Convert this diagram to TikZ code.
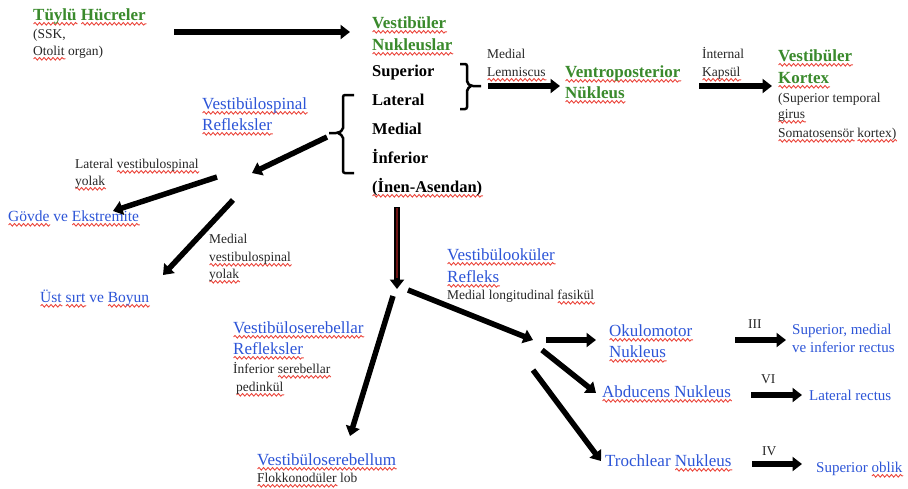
\documentclass[tikz,border=0pt]{standalone}
\usepackage{fontspec}
\setmainfont{Liberation Serif}
\usetikzlibrary{arrows.meta,decorations.pathmorphing}
\definecolor{tgreen}{RGB}{58,138,44}
\definecolor{tblue}{RGB}{45,85,215}
\definecolor{wavered}{RGB}{235,70,60}
\definecolor{darkred}{RGB}{110,20,20}
\newlength\rwlen
\newcommand\rw[1]{\leavevmode\setbox0=\hbox{#1}\rwlen=\wd0\rlap{\tikz[baseline=0pt,x=1pt,y=1pt]\draw[wavered,line width=0.9pt,line cap=round,decorate,decoration={snake,amplitude=1.3pt,segment length=4.5pt}] (0pt,-3.8pt) -- (\rwlen,-3.8pt);}#1}
\begin{document}
\begin{tikzpicture}[x=1pt,y=-1pt,
  g/.style={text=tgreen,font=\fontsize{17}{20}\selectfont\bfseries,anchor=base west,inner sep=0pt},
  bk/.style={font=\fontsize{16.5}{20}\selectfont\bfseries,anchor=base west,inner sep=0pt},
  bl/.style={text=tblue,font=\fontsize{17}{20}\selectfont,anchor=base west,inner sep=0pt},
  blm/.style={text=tblue,font=\fontsize{15.5}{18}\selectfont,anchor=base west,inner sep=0pt},
  blr/.style={text=tblue,font=\fontsize{15}{18}\selectfont,anchor=base west,inner sep=0pt},
  sm/.style={text=black!85,font=\fontsize{13.5}{16}\selectfont,anchor=base west,inner sep=0pt},
  arr/.style={line width=5.5pt,-{Triangle[length=9.5pt,width=14pt]}},
  brc/.style={line width=2.5pt,rounded corners=2pt}]
\useasboundingbox (0,0) rectangle (908,488);
% top left
\node[g] (t1) at (33,20) {\rw{Tüylü} \rw{Hücreler}};
\node[sm] (t2) at (33,38) {(SSK,};
\node[sm] (t3) at (33,55) {\rw{Otolit} organ)};
% vestibular nuclei
\node[g] (v1) at (372,28) {\rw{Vestibüler}};
\node[g] (v2) at (372,50) {\rw{Nukleuslar}};
\node[bk] (n1) at (372,76) {Superior};
\node[bk] (n2) at (372,105) {Lateral};
\node[bk] (n3) at (372,134) {Medial};
\node[bk] (n4) at (372,163) {İnferior};
\node[bk] (n5) at (372,192) {\rw{(İnen-Asendan)}};
% top right
\node[sm] (ml1) at (487,58) {Medial};
\node[sm] (ml2) at (487,76) {\rw{Lemniscus}};
\node[g] (vp1) at (565,77) {\rw{Ventroposterior}};
\node[g] (vp2) at (565,98) {\rw{Nükleus}};
\node[sm] (ik1) at (702,58) {İnternal};
\node[sm] (ik2) at (702,76) {\rw{Kapsül}};
\node[g] (vk1) at (778,61) {\rw{Vestibüler}};
\node[g] (vk2) at (778,83) {\rw{Kortex}};
\node[sm] (vk3) at (778,102) {(Superior temporal};
\node[sm] (vk4) at (778,118) {\rw{girus}};
\node[sm] (vk5) at (778,137) {\rw{Somatosensör} \rw{kortex)}};
% vestibulospinal
\node[bl] (vs1) at (202,109) {\rw{Vestibülospinal}};
\node[bl] (vs2) at (202,130) {\rw{Refleksler}};
\node[sm] (lv1) at (75,168) {Lateral \rw{vestibulospinal}};
\node[sm] (lv2) at (75,185) {\rw{yolak}};
\node[blm] (gv) at (8,221) {\rw{Gövde} ve \rw{Ekstremite}};
\node[sm] (mv1) at (209,243) {Medial};
\node[sm] (mv2) at (209,261) {\rw{vestibulospinal}};
\node[sm] (mv3) at (209,278) {\rw{yolak}};
\node[blm] (us) at (40,302) {\rw{Üst} \rw{sırt} ve \rw{Boyun}};
% vestibulo-ocular
\node[bl] (vo1) at (447,260) {\rw{Vestibülooküler}};
\node[bl] (vo2) at (447,282) {\rw{Refleks}};
\node[sm] (vo3) at (447,299) {Medial longitudinal \rw{fasikül}};
% vestibulocerebellar
\node[bl] (vc1) at (233,333) {\rw{Vestibüloserebellar}};
\node[bl] (vc2) at (233,354) {\rw{Refleksler}};
\node[sm] (vc3) at (233,373) {İnferior \rw{serebellar}};
\node[sm] (vc4) at (236,391) {\rw{pedinkül}};
\node[bl] (cb1) at (257,465) {\rw{Vestibüloserebellum}};
\node[sm] (cb2) at (257,482) {\rw{Flokkonodüler} lob};
% oculomotor nuclei
\node[bl] (ok1) at (609,336) {\rw{Okulomotor}};
\node[bl] (ok2) at (609,357) {\rw{Nukleus}};
\node[bl] (ab) at (602,397) {\rw{Abducens Nukleus}};
\node[bl] (tr) at (605,466) {Trochlear \rw{Nukleus}};
\node[sm] (c3) at (748,328) {III};
\node[blr] (r1) at (792,334) {Superior, medial};
\node[blr] (r2) at (792,352) {ve inferior rectus};
\node[sm] (c6) at (761,383) {VI};
\node[blr] (lr) at (809,400) {Lateral rectus};
\node[sm] (c4) at (762,455) {IV};
\node[blr] (so) at (816,472) {Superior \rw{oblik}};
% braces
\draw[brc] (460,64) -- (467,64) -- (467,83) -- (471,86) -- (481,86);
\draw[brc] (460,109) -- (467,109) -- (467,89) -- (471,86);
\draw[brc] (354,95) -- (343,95) -- (343,130) -- (338,133) -- (329,133);
\draw[brc] (354,173) -- (343,173) -- (343,136) -- (338,133);
% arrow end points
\coordinate (a1s) at (174,32); \coordinate (a1e) at (350,32);
\coordinate (a2s) at (488,86); \coordinate (a2e) at (560,86);
\coordinate (a3s) at (699,86); \coordinate (a3e) at (772,86);
\coordinate (a4s) at (327,137); \coordinate (a4e) at (252,173);
\coordinate (a5s) at (217,177); \coordinate (a5e) at (113,211);
\coordinate (a6s) at (233,200); \coordinate (a6e) at (163,275);
\coordinate (a7s) at (397,207); \coordinate (a7e) at (397,289);
\coordinate (a8s) at (393,296); \coordinate (a8e) at (350,436);
\coordinate (a9s) at (408,290); \coordinate (a9e) at (533,340);
\coordinate (b1s) at (546,340); \coordinate (b1e) at (596,340);
\coordinate (b2s) at (542,350); \coordinate (b2e) at (596,393);
\coordinate (b3s) at (533,370); \coordinate (b3e) at (601,461);
\coordinate (c1s) at (735,340); \coordinate (c1e) at (786,340);
\coordinate (c2s) at (751,395); \coordinate (c2e) at (802,395);
\coordinate (c3s) at (752,464); \coordinate (c3e) at (802,464);
% arrows
\draw[arr] (a1s) -- (a1e);
\draw[arr] (a2s) -- (a2e);
\draw[arr] (a3s) -- (a3e);
\draw[arr] (a4s) -- (a4e);
\draw[arr] (a5s) -- (a5e);
\draw[arr] (a6s) -- (a6e);
\draw[arr] (a7s) -- (a7e);
\draw[darkred,line width=1.5pt,shorten <=1pt,shorten >=11pt] (a7s) -- (a7e);
\draw[arr] (a8s) -- (a8e);
\draw[arr] (a9s) -- (a9e);
\draw[arr] (b1s) -- (b1e);
\draw[arr] (b2s) -- (b2e);
\draw[arr] (b3s) -- (b3e);
\draw[arr] (c1s) -- (c1e);
\draw[arr] (c2s) -- (c2e);
\draw[arr] (c3s) -- (c3e);
\end{tikzpicture}
\end{document}
